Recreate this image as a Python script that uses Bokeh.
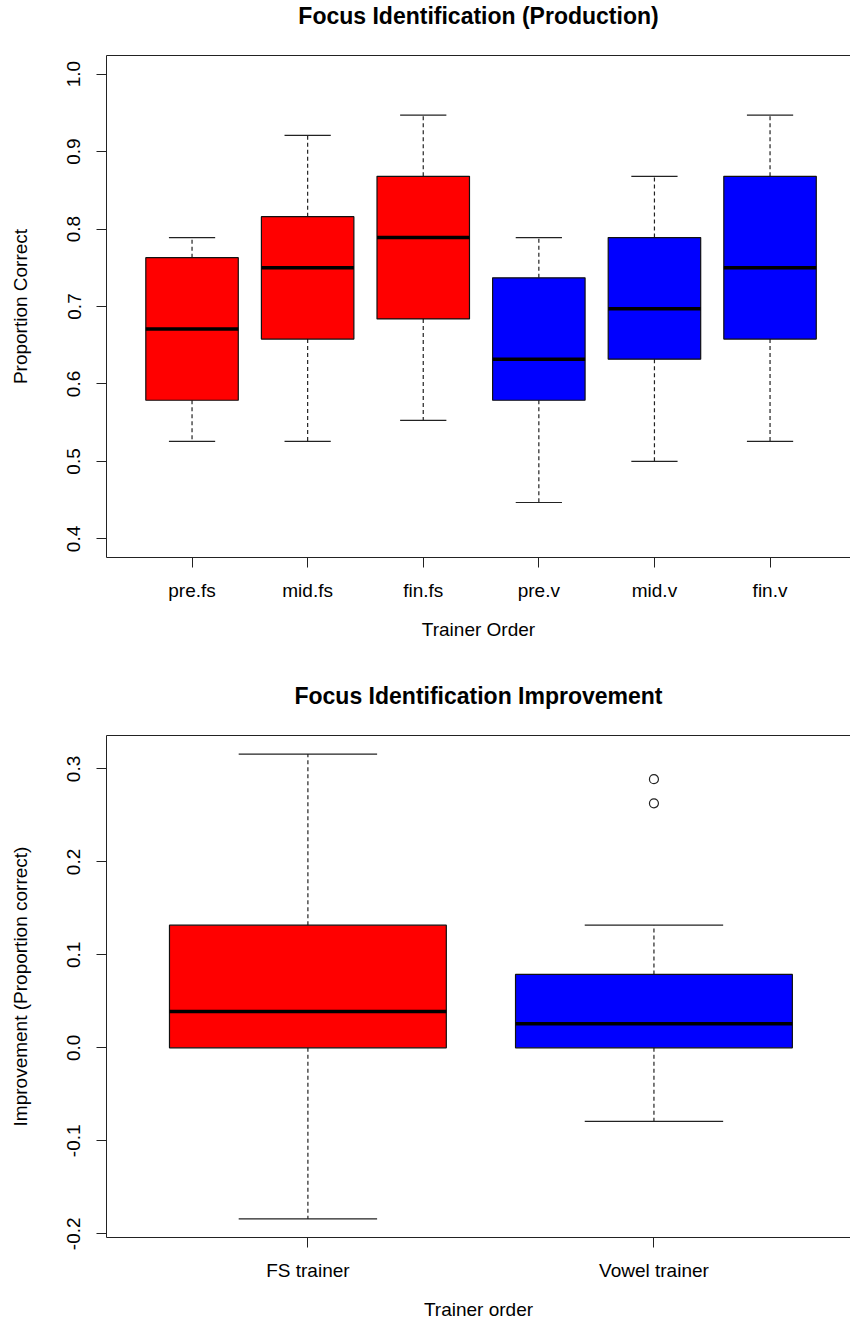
from bokeh.plotting import figure
from bokeh.layouts import column
from bokeh.models import Range1d, FixedTicker, LinearAxis, PrintfTickFormatter
from bokeh.embed import file_html
from bokeh.resources import INLINE

# --- Focus identification by trainer order (proportion correct) ---
order_labels = ["pre.fs", "mid.fs", "fin.fs", "pre.v", "mid.v", "fin.v"]
order_lower = [0.526, 0.526, 0.553, 0.447, 0.500, 0.526]
order_q1 = [0.579, 0.658, 0.684, 0.579, 0.632, 0.658]
order_median = [0.671, 0.750, 0.789, 0.632, 0.697, 0.750]
order_q3 = [0.763, 0.816, 0.868, 0.737, 0.789, 0.868]
order_upper = [0.789, 0.921, 0.947, 0.789, 0.868, 0.947]
order_colors = ["#FF0000", "#FF0000", "#FF0000", "#0000FF", "#0000FF", "#0000FF"]
order_yticks = [0.4, 0.5, 0.6, 0.7, 0.8, 0.9, 1.0]

# --- Improvement by trainer ---
trainer_labels = ["FS trainer", "Vowel trainer"]
trainer_lower = [-0.184, -0.079]
trainer_q1 = [0.000, 0.000]
trainer_median = [0.039, 0.026]
trainer_q3 = [0.132, 0.079]
trainer_upper = [0.316, 0.132]
trainer_colors = ["#FF0000", "#0000FF"]
outlier_group = [2, 2]
outlier_values = [0.263, 0.289]
trainer_yticks = [-0.2, -0.1, 0.0, 0.1, 0.2, 0.3]

FONT = "Liberation Sans"
INK = "#222222"
BOX_HALF = 0.4
CAP_HALF = 0.2


def style_axis(ax):
    ax.axis_line_color = INK
    ax.axis_line_width = 1
    ax.major_tick_line_color = INK
    ax.major_tick_out = 10
    ax.major_tick_in = 0
    ax.minor_tick_line_color = None
    ax.major_label_text_font = FONT
    ax.major_label_text_font_size = "19px"
    ax.major_label_text_color = "black"
    ax.axis_label_text_font = FONT
    ax.axis_label_text_font_size = "19px"
    ax.axis_label_text_font_style = "normal"
    ax.axis_label_text_color = "black"


def boxplot(title, xlabel, ylabel, labels, lower, q1, med, q3, upper, colors,
            yticks, x_range, y_range, height, border_top, border_bottom):
    p = figure(width=850, height=height, output_backend="svg", toolbar_location=None,
               x_range=x_range, y_range=y_range,
               min_border_left=106, min_border_right=0,
               min_border_top=border_top, min_border_bottom=border_bottom,
               background_fill_color="white", border_fill_color="white")
    p.outline_line_color = None
    p.xgrid.visible = False
    p.ygrid.visible = False

    p.title.text = title
    p.title.align = "center"
    p.title.text_font = FONT
    p.title.text_font_size = "23px"
    p.title.text_font_style = "bold"
    p.title.text_color = "black"
    p.title.offset = 2
    p.title.standoff = 0

    xs = list(range(1, len(labels) + 1))

    # whiskers (dashed) from box edges to extremes
    p.segment(x0=xs, y0=q3, x1=xs, y1=upper, line_color=INK, line_width=1.2, line_dash="4 3")
    p.segment(x0=xs, y0=q1, x1=xs, y1=lower, line_color=INK, line_width=1.2, line_dash="4 3")
    # staples
    p.segment(x0=[x - CAP_HALF for x in xs], y0=upper, x1=[x + CAP_HALF for x in xs], y1=upper,
              line_color=INK, line_width=1.2)
    p.segment(x0=[x - CAP_HALF for x in xs], y0=lower, x1=[x + CAP_HALF for x in xs], y1=lower,
              line_color=INK, line_width=1.2)
    # boxes
    p.vbar(x=xs, width=2 * BOX_HALF, bottom=q1, top=q3, fill_color=colors,
           line_color="#111111", line_width=1.2)
    # medians
    p.segment(x0=[x - BOX_HALF for x in xs], y0=med, x1=[x + BOX_HALF for x in xs], y1=med,
              line_color="black", line_width=3.5)

    p.xaxis.ticker = FixedTicker(ticks=xs)
    p.xaxis.major_label_overrides = {x: lab for x, lab in zip(xs, labels)}
    p.xaxis.axis_label = xlabel
    p.xaxis.major_label_standoff = 12
    p.xaxis.axis_label_standoff = 15
    style_axis(p.xaxis[0])

    p.yaxis.ticker = FixedTicker(ticks=yticks)
    p.yaxis.formatter = PrintfTickFormatter(format="%.1f")
    p.yaxis.axis_label = ylabel
    p.yaxis.major_label_orientation = "vertical"
    p.yaxis.major_label_standoff = 16
    p.yaxis.axis_label_standoff = 34
    style_axis(p.yaxis[0])

    # top edge of the plotting frame; its blank label reserves a gap under the title
    top = LinearAxis(ticker=FixedTicker(ticks=[]), major_label_text_font_size="0px",
                     axis_line_color=INK, major_tick_line_color=None,
                     minor_tick_line_color=None,
                     axis_label=" ", axis_label_text_font_size="19px",
                     axis_label_standoff=3)
    p.add_layout(top, "above")
    return p


p1 = boxplot("Focus Identification (Production)", "Trainer Order", "Proportion Correct",
             order_labels, order_lower, order_q1, order_median, order_q3, order_upper,
             order_colors, order_yticks,
             Range1d(0.26, 6.696), Range1d(0.376, 1.024), 661, 55, 104)

p2 = boxplot("Focus Identification Improvement", "Trainer order",
             "Improvement (Proportion correct)",
             trainer_labels, trainer_lower, trainer_q1, trainer_median, trainer_q3, trainer_upper,
             trainer_colors, trainer_yticks,
             Range1d(0.418, 2.568), Range1d(-0.204, 0.336), 661, 74, 84)
p2.scatter(x=outlier_group, y=outlier_values, marker="circle", size=9,
           fill_color=None, line_color=INK, line_width=1.2)

layout = column(p1, p2, spacing=0)
open("out.html", "w").write(file_html(layout, INLINE))
